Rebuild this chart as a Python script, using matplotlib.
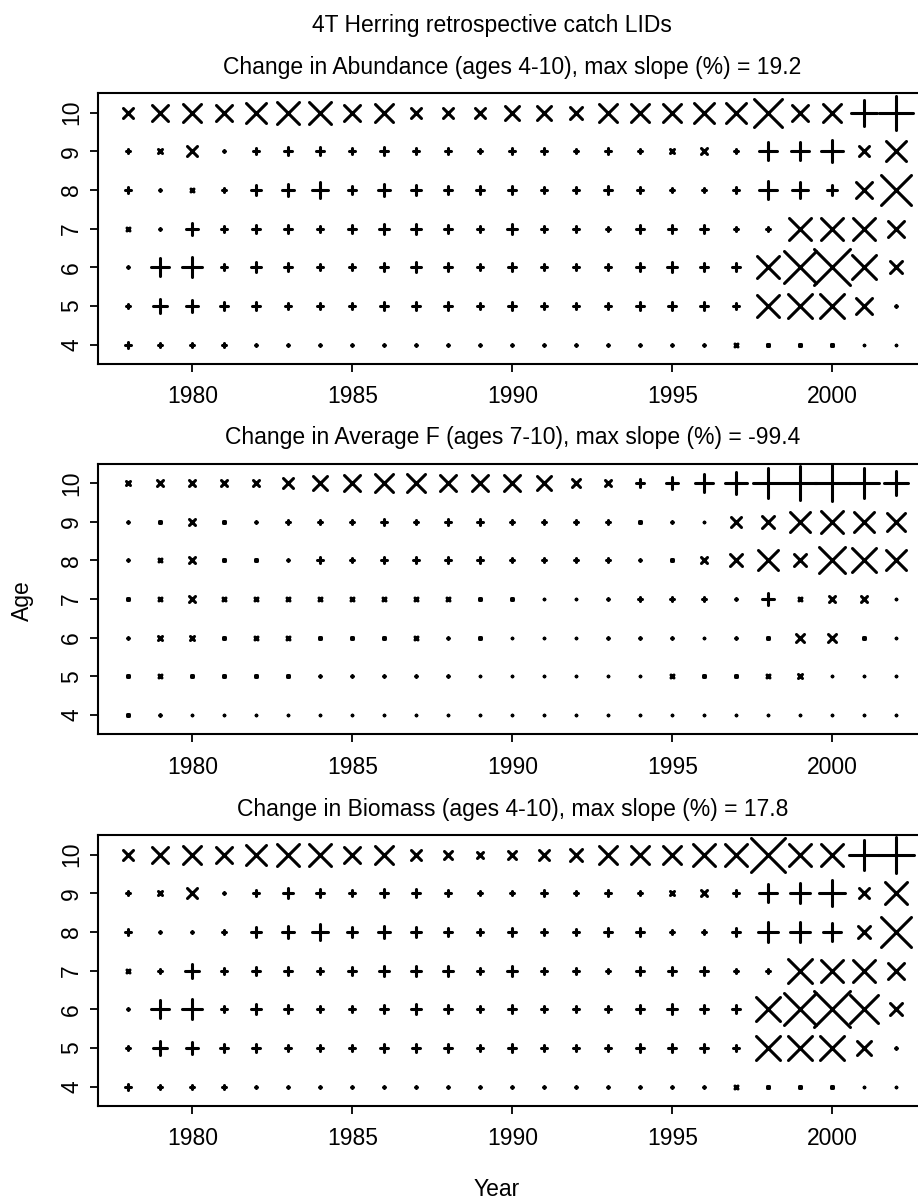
import numpy as np
import matplotlib
matplotlib.use("Agg")
import matplotlib.pyplot as plt
from matplotlib.markers import MarkerStyle

plt.rcParams['font.family'] = ['Liberation Sans', 'DejaVu Sans']

years = np.arange(1978, 2003)
ages = np.arange(4, 11)

# slopes (%) by age (rows 4..10) and year (1978..2002)
# negative slopes are drawn as '+', positive as 'x'
abund = [
    [-3.2, -2.7, -2.7, -2.1, -1.6, -1.6, -1.6, -1.6, -1.6, -1.6, -1.6, -1.6, -1.6, -1.6, -1.1, -1.1, -1.6, -1.1, -1.6, 1.6, 1.1, 1.1, 1.1, -0.5, -0.5],
    [-2.7, -7.4, -6.4, -4.8, -4.8, -3.7, -3.7, -3.7, -4.2, -4.2, -4.2, -3.7, -4.2, -3.7, -3.7, -3.7, -4.2, -4.8, -4.8, -3.2, 12.2, 13.3, 13.3, 8.5, -1.1],
    [-1.1, -9.5, -10.6, -3.7, -5.3, -4.8, -3.2, -3.2, -4.8, -5.3, -4.2, -3.7, -4.2, -3.2, -3.7, -3.2, -4.2, -5.3, -4.8, -4.2, 12.2, 17.5, 19.2, 13.3, 6.9],
    [1.6, -1.6, -6.4, -3.2, -4.8, -4.2, -3.7, -4.2, -5.3, -5.8, -4.8, -3.2, -5.8, -3.2, -3.2, -2.7, -4.8, -4.8, -4.8, -2.7, -2.1, 12.2, 12.2, 12.2, 8.5],
    [-3.2, -1.1, 1.6, -2.7, -5.3, -6.4, -8.5, -4.8, -6.4, -5.8, -4.2, -4.2, -4.2, -3.7, -3.7, -4.2, -3.7, -2.7, -2.1, -3.7, -9.5, -8.5, -5.3, 8.5, 15.9],
    [-2.1, 2.1, 5.8, -1.6, -3.2, -4.8, -4.2, -3.7, -4.8, -3.7, -3.2, -2.7, -3.2, -3.2, -2.1, -3.2, -2.1, 2.7, 3.7, -2.7, -9.5, -9.5, -11.7, 5.8, 11.1],
    [5.3, 8.5, 9.5, 8.5, 11.1, 12.2, 12.2, 8.5, 9.5, 5.8, 5.8, 5.3, 7.4, 7.4, 6.9, 9.5, 9.5, 9.5, 11.1, 11.1, 14.8, 8.5, 9.5, -13.8, -18.9],
]

avgf = [
    [5.5, -5.5, -2.8, -2.8, -2.8, -2.8, -2.8, -2.8, -2.8, -2.8, -2.8, -2.8, -2.8, -2.8, -2.8, -2.8, -2.8, -2.8, -2.8, -2.8, -2.8, -2.8, -2.8, -2.8, -2.8],
    [5.5, 8.3, 5.5, 5.5, 5.5, 5.5, -5.5, -5.5, -5.5, -5.5, -5.5, -2.8, -2.8, -2.8, -2.8, -2.8, -2.8, 8.3, 5.5, 5.5, 8.3, 11.0, -2.8, -2.8, -2.8],
    [-5.5, 11.0, 13.8, 5.5, 8.3, 8.3, 5.5, 5.5, 5.5, 8.3, -5.5, 5.5, -2.8, -2.8, -2.8, -5.5, -8.3, -5.5, -2.8, -8.3, 5.5, 24.8, 22.1, 5.5, -2.8],
    [5.5, 8.3, 19.3, 8.3, 8.3, 8.3, 8.3, 8.3, 8.3, 8.3, 8.3, 5.5, 5.5, -2.8, -2.8, -5.5, -11.0, -11.0, -11.0, -8.3, -33.1, 8.3, 19.3, 19.3, -2.8],
    [-5.5, 8.3, 19.3, 5.5, 5.5, -8.3, -19.3, -13.8, -16.6, -16.6, -16.6, -16.6, -13.8, -13.8, -11.0, -11.0, -5.5, 5.5, 19.3, 33.1, 55.2, 35.9, 71.8, 69.0, 58.0],
    [-5.5, 5.5, 16.6, 5.5, -5.5, -11.0, -13.8, -13.8, -16.6, -13.8, -16.6, -16.6, -13.8, -13.8, -13.8, -13.8, 5.5, -5.5, -2.8, 27.6, 33.1, 55.2, 63.5, 55.2, 49.7],
    [11.0, 16.6, 19.3, 16.6, 19.3, 27.6, 41.4, 44.2, 49.7, 49.7, 44.2, 44.2, 44.2, 38.6, 22.1, 16.6, -24.8, -35.9, -49.7, -63.5, -85.6, -96.6, -99.4, -82.8, -69.0],
]

biomass = [
    [-2.9, -2.5, -2.5, -2.0, -1.5, -1.5, -1.5, -1.5, -1.5, -1.5, -1.5, -1.5, -1.5, -1.5, -1.0, -1.0, -1.5, -1.0, -1.5, 1.5, 1.0, 1.0, 1.0, -0.5, -0.5],
    [-2.5, -7.4, -5.9, -4.4, -4.4, -3.4, -3.4, -3.4, -3.9, -3.9, -3.9, -3.4, -3.9, -3.4, -3.4, -3.4, -3.9, -4.4, -4.4, -2.9, 12.3, 12.3, 12.3, 7.4, -1.0],
    [-1.0, -8.8, -9.8, -3.4, -4.9, -4.4, -2.9, -2.9, -4.4, -4.9, -3.9, -3.4, -3.9, -2.9, -3.4, -2.9, -3.9, -4.9, -4.4, -3.9, 12.3, 16.2, 17.8, 13.7, 6.4],
    [1.5, -2.0, -6.9, -2.9, -4.4, -3.9, -3.4, -3.9, -4.9, -5.4, -4.9, -2.9, -5.4, -2.9, -2.9, -2.5, -4.4, -4.4, -4.4, -2.5, -2.0, 12.3, 11.3, 11.3, 7.8],
    [-2.9, -1.0, -1.5, -2.5, -4.9, -6.4, -7.8, -4.9, -5.9, -5.4, -3.9, -3.4, -3.9, -3.4, -3.4, -3.9, -3.9, -2.5, -2.0, -3.9, -9.8, -9.8, -8.8, 5.9, 15.2],
    [-2.0, 2.0, 5.4, -1.5, -3.4, -4.9, -3.9, -3.4, -4.4, -3.9, -2.9, -2.5, -2.5, -2.9, -2.0, -2.9, -2.0, 2.5, 3.4, -2.9, -8.8, -9.8, -12.7, 4.9, 10.8],
    [4.9, 7.8, 8.8, 7.8, 9.8, 11.3, 10.8, 7.8, 8.8, 4.9, 3.9, 3.4, 4.4, 5.4, 6.4, 8.8, 8.8, 8.8, 10.8, 11.3, 16.7, 11.3, 11.3, -14.7, -17.6],
]

panels = [
    ("Abundance (ages 4-10)", abund),
    ("Average F (ages 7-10)", avgf),
    ("Biomass (ages 4-10)", biomass),
]

fs = 16.5
big = 25.5   # marker size (pt) of the largest slope in a panel
mew = 2.2

plus = MarkerStyle('+', capstyle='round')
cross = MarkerStyle('x', capstyle='round')

fig = plt.figure(figsize=(9.18, 12.02), dpi=100)
bottoms = [0.6972, 0.3891, 0.0799]

for (name, vals), b in zip(panels, bottoms):
    ax = fig.add_axes([0.1064, b, 0.9034, 0.2252])
    v = np.array(vals)
    mx = v.flat[np.abs(v).argmax()]
    for i, age in enumerate(ages):
        for j, yr in enumerate(years):
            val = v[i, j]
            ax.plot(yr, age, linestyle='none', color='black',
                    marker=plus if val < 0 else cross,
                    markersize=abs(val) / abs(mx) * big, markeredgewidth=mew)

    ax.set_xlim(1977.04, 2002.96)
    ax.set_ylim(3.5, 10.5)
    ax.set_xticks([1980, 1985, 1990, 1995, 2000])
    ax.set_yticks(ages)
    for sp in ax.spines.values():
        sp.set_linewidth(1.5)
    ax.tick_params(direction='out', length=5.5, width=1.3, labelsize=fs)
    ax.tick_params(axis='x', pad=10)
    ax.tick_params(axis='y', pad=5)
    for t in ax.get_yticklabels():
        t.set_rotation(90)
        t.set_va('center')
    ax.set_title(f"Change in {name}, max slope (%) = {mx:.1f}", fontsize=fs, pad=14)

fig.text(0.536, 0.979, "4T Herring retrospective catch LIDs", ha='center', va='center', fontsize=fs)
fig.text(0.024, 0.5, "Age", rotation=90, ha='center', va='center', fontsize=fs)
fig.text(0.541, 0.01, "Year", ha='center', va='center', fontsize=fs)

fig.savefig("out.png", dpi=100)
